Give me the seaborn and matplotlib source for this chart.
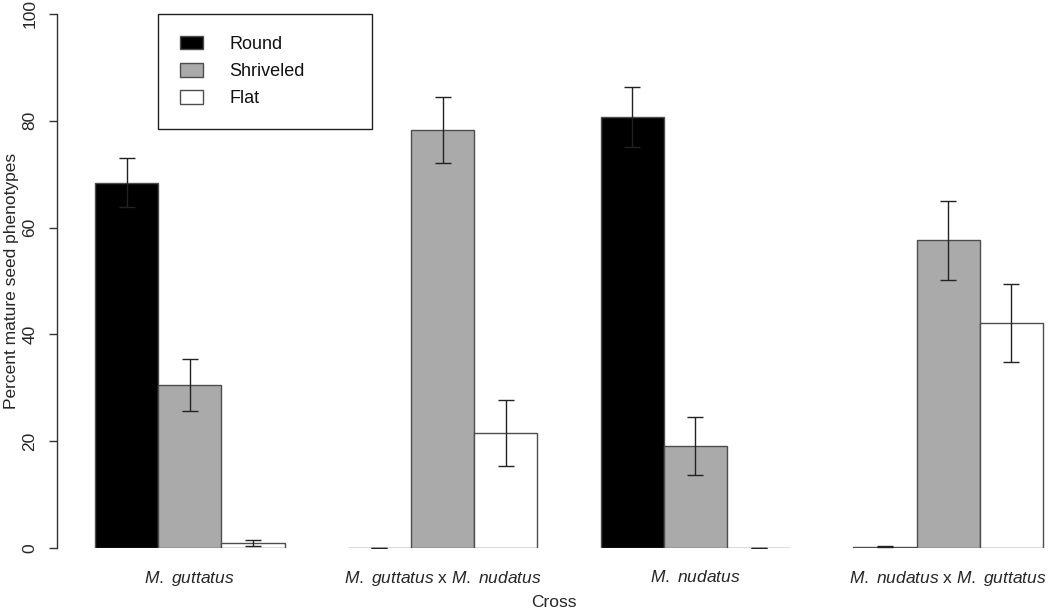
import matplotlib
matplotlib.use("Agg")
import matplotlib.pyplot as plt
import numpy as np
import pandas as pd
import seaborn as sns

crosses = ["M. guttatus", "M. guttatus x M. nudatus", "M. nudatus", "M. nudatus x M. guttatus"]
tick_labels = [
    r"$\mathit{M.\ guttatus}$",
    r"$\mathit{M.\ guttatus}$ x $\mathit{M.\ nudatus}$",
    r"$\mathit{M.\ nudatus}$",
    r"$\mathit{M.\ nudatus}$ x $\mathit{M.\ guttatus}$",
]
phenotypes = ["Round", "Shriveled", "Flat"]
round_pct = [68.4, 0.0, 80.7, 0.2]
shriveled_pct = [30.5, 78.3, 19.1, 57.6]
flat_pct = [1.0, 21.6, 0.0, 42.1]
round_err = [4.6, 0.0, 5.6, 0.1]
shriveled_err = [4.8, 6.2, 5.4, 7.4]
flat_err = [0.55, 6.2, 0.0, 7.3]

COLORS = {"Round": "#000000", "Shriveled": "#AAAAAA", "Flat": "#FFFFFF"}

sns.set_theme(style="white")
plt.rcParams.update({
    "font.family": ["Liberation Sans", "DejaVu Sans"],
    "mathtext.fontset": "custom",
    "mathtext.rm": "Liberation Sans",
    "mathtext.it": "Liberation Sans:italic",
    "font.size": 12.5,
})

df = pd.DataFrame({
    "Cross": crosses * 3,
    "Phenotype": np.repeat(phenotypes, len(crosses)),
    "Percent": round_pct + shriveled_pct + flat_pct,
})
errs = {"Round": round_err, "Shriveled": shriveled_err, "Flat": flat_err}

fig = plt.figure(figsize=(10.5, 6.1), dpi=100)
ax = fig.add_axes([57 / 1050, 62 / 610, 993 / 1050, 534 / 610])

sns.barplot(data=df, x="Cross", y="Percent", hue="Phenotype", order=crosses,
            hue_order=phenotypes, palette=COLORS, width=0.75, errorbar=None,
            edgecolor="#4d4d4d", linewidth=1.0, saturation=1, ax=ax)

# error bars on top of each bar
for cont, ph in zip(ax.containers, phenotypes):
    xs = [b.get_x() + b.get_width() / 2 for b in cont]
    hs = [b.get_height() for b in cont]
    ax.errorbar(xs, hs, yerr=errs[ph], fmt="none", ecolor="#222222",
                elinewidth=1.0, capsize=6, capthick=1.0, zorder=5)

ax.set_xlim(-0.525, 3.403)
ax.set_ylim(0, 100)
ax.set_yticks([0, 20, 40, 60, 80, 100])
ax.set_xticks(range(len(crosses)))
ax.set_xticklabels(tick_labels)
for s in ["top", "right", "bottom"]:
    ax.spines[s].set_visible(False)
ax.spines["left"].set_color("#333333")
ax.spines["left"].set_linewidth(1.0)
ax.tick_params(axis="y", length=6, width=1.0, color="#333333", pad=8,
               labelsize=12.5, labelrotation=90, left=True)
for lab in ax.get_yticklabels():
    lab.set_va("center")
ax.tick_params(axis="x", length=0, pad=15, labelsize=12.5)
ax.set_xlabel("Cross", fontsize=12.5)
ax.set_ylabel("Percent mature seed phenotypes", fontsize=12.5)
ax.yaxis.set_label_coords(-38 / 993, 0.5)
ax.xaxis.set_label_coords(0.5, -47 / 534)

handles, labels = ax.get_legend_handles_labels()
leg = ax.legend(handles, labels, loc="upper left", mode="expand",
                bbox_to_anchor=(158 / 1050, 487 / 610, 214 / 1050, 109 / 610),
                bbox_transform=fig.transFigure,
                fancybox=False, edgecolor="#222222", framealpha=1,
                handlelength=1.3, handleheight=0.8, handletextpad=1.45,
                borderpad=1.2, labelspacing=0.55, borderaxespad=0,
                fontsize=13)
leg.get_frame().set_linewidth(1.0)
for t in leg.get_texts():
    t.set_color("#111111")

fig.savefig("out.png", dpi=100)
